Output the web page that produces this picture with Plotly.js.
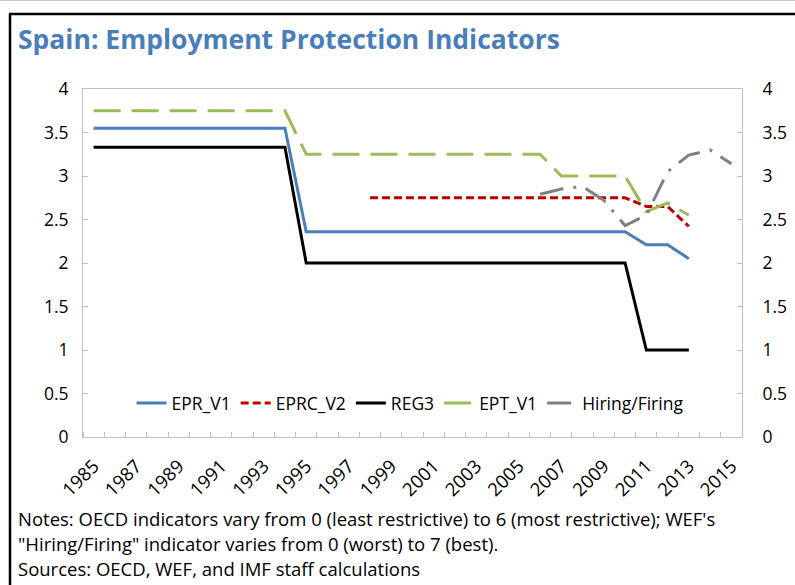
<!DOCTYPE html>
<html>
<head>
<meta charset="utf-8">
<script src="https://cdn.plot.ly/plotly-3.0.1.min.js"></script>
<style>
html,body{margin:0;padding:0;background:#fff;}
#chart{width:795px;height:585px;}
</style>
</head>
<body>
<div id="chart"></div>
<script>
// ---- Data ----
const years = [1985,1986,1987,1988,1989,1990,1991,1992,1993,1994,1995,1996,1997,1998,1999,2000,2001,2002,2003,2004,2005,2006,2007,2008,2009,2010,2011,2012,2013,2014,2015];

const eprV1 = [3.55,3.55,3.55,3.55,3.55,3.55,3.55,3.55,3.55,3.55,
  2.36,2.36,2.36,2.36,2.36,2.36,2.36,2.36,2.36,2.36,2.36,2.36,2.36,2.36,2.36,2.36,
  2.21,2.21,2.05,null,null];

const eprcV2 = [null,null,null,null,null,null,null,null,null,null,null,null,null,
  2.75,2.75,2.75,2.75,2.75,2.75,2.75,2.75,2.75,2.75,2.75,2.75,2.75,
  2.65,2.65,2.42,null,null];

const reg3 = [3.33,3.33,3.33,3.33,3.33,3.33,3.33,3.33,3.33,3.33,
  2.0,2.0,2.0,2.0,2.0,2.0,2.0,2.0,2.0,2.0,2.0,2.0,2.0,2.0,2.0,2.0,
  1.0,1.0,1.0,null,null];

const eptV1 = [3.75,3.75,3.75,3.75,3.75,3.75,3.75,3.75,3.75,3.75,
  3.25,3.25,3.25,3.25,3.25,3.25,3.25,3.25,3.25,3.25,3.25,3.25,
  3.0,3.0,3.0,3.0,
  2.59,2.69,2.55,null,null];

const hiringFiring = [null,null,null,null,null,null,null,null,null,null,null,null,null,null,null,null,null,null,null,null,null,
  2.79,2.85,2.88,2.72,2.43,2.55,3.05,3.24,3.30,3.14];

const yTickVals = [0,0.5,1,1.5,2,2.5,3,3.5,4];
const yTickText = ["0","0.5","1","1.5","2","2.5","3","3.5","4"];

const titleText = "Spain: Employment Protection Indicators";
const noteLines = [
  "Notes: OECD indicators vary from 0 (least restrictive) to 6 (most restrictive); WEF's",
  "\"Hiring/Firing\" indicator varies from 0 (worst) to 7 (best).",
  "Sources: OECD, WEF, and IMF staff calculations"
];

// ---- Layout geometry (pixels) ----
const W = 795, H = 585;
const L = 83, R = 742, T = 89, B = 437;
const px2x = p => (p - L) / (R - L);
const py2y = p => (B - p) / (B - T);

const FONT = "'Open Sans', 'Noto Sans', sans-serif";

const traces = [
  {x: years, y: eprV1, name: "EPR_V1", type: "scatter", mode: "lines",
   line: {color: "#4A7EBB", width: 3}},
  {x: years, y: eprcV2, name: "EPRC_V2", type: "scatter", mode: "lines",
   line: {color: "#C00000", width: 3, dash: "8px,4px"}},
  {x: years, y: reg3, name: "REG3", type: "scatter", mode: "lines",
   line: {color: "#000000", width: 3}},
  {x: years, y: eptV1, name: "EPT_V1", type: "scatter", mode: "lines",
   line: {color: "#9BBB59", width: 3, dash: "27px,11px"}},
  {x: years, y: hiringFiring, name: "Hiring/Firing", type: "scatter", mode: "lines",
   yaxis: "y2", line: {color: "#808080", width: 3, dash: "24px,10px,3px,10px"}}
];

const annotations = noteLines.map((t, i) => ({
  text: t, xref: "paper", yref: "paper",
  x: px2x(16), y: py2y(518 + i * 25),
  xanchor: "left", yanchor: "middle", showarrow: false,
  font: {family: FONT, size: 18.5, color: "#000"}
}));

const layout = {
  width: W, height: H,
  margin: {l: L, r: W - R, t: T, b: H - B, pad: 0},
  paper_bgcolor: "#fff", plot_bgcolor: "#fff",
  showlegend: true,
  title: {
    text: "<b>" + titleText + "</b>",
    xref: "container", yref: "container",
    x: 18 / W, xanchor: "left",
    y: 1 - 40 / H, yanchor: "middle",
    font: {family: FONT, size: 26.5, color: "#4A7EBB"}
  },
  font: {family: FONT, size: 17, color: "#000"},
  xaxis: {
    type: "linear", range: [1984.5, 2015.5],
    tickmode: "linear", tick0: 1985, dtick: 2,
    tickangle: -45, ticks: "", ticklabelstandoff: 10,
    tickfont: {family: FONT, size: 18.5, color: "#000"},
    showgrid: false, zeroline: false,
    showline: true, linecolor: "#BFBFBF", linewidth: 1, mirror: true,
    minor: {tickmode: "linear", tick0: 1984.5, dtick: 1, ticks: "inside",
            ticklen: 5, tickcolor: "#BFBFBF", tickwidth: 1, showgrid: false}
  },
  yaxis: {
    range: [0, 4], tickmode: "array", tickvals: yTickVals, ticktext: yTickText,
    ticks: "inside", ticklen: 5, tickcolor: "#BFBFBF",
    ticklabelstandoff: 10,
    tickfont: {family: FONT, size: 17.5, color: "#000"},
    showgrid: false, zeroline: false,
    showline: true, linecolor: "#BFBFBF", linewidth: 1
  },
  yaxis2: {
    range: [0, 4], overlaying: "y", side: "right",
    tickmode: "array", tickvals: yTickVals, ticktext: yTickText,
    ticks: "inside", ticklen: 5, tickcolor: "#BFBFBF",
    ticklabelstandoff: 16,
    tickfont: {family: FONT, size: 17.5, color: "#000"},
    showgrid: false, zeroline: false,
    showline: true, linecolor: "#BFBFBF", linewidth: 1
  },
  legend: {
    orientation: "h", x: px2x(410), y: py2y(403),
    xanchor: "center", yanchor: "middle",
    bgcolor: "rgba(0,0,0,0)", borderwidth: 0,
    font: {family: FONT, size: 17.5, color: "#000"},
    itemwidth: 30, tracegroupgap: 0, traceorder: "normal"
  },
  annotations: annotations,
  shapes: [
    {type: "line", xref: "paper", yref: "paper",
     x0: px2x(10), x1: px2x(10), y0: py2y(14), y1: py2y(H + 5),
     line: {color: "#000", width: 2.5}},
    {type: "line", xref: "paper", yref: "paper",
     x0: px2x(9), x1: px2x(W + 5), y0: py2y(14), y1: py2y(14),
     line: {color: "#000", width: 2.5}},
    {type: "line", xref: "paper", yref: "paper",
     x0: px2x(0), x1: px2x(W + 5), y0: py2y(0.5), y1: py2y(0.5),
     line: {color: "#C8C8C8", width: 1}}
  ]
};

Plotly.newPlot("chart", traces, layout, {displayModeBar: false, staticPlot: true});
</script>
</body>
</html>
